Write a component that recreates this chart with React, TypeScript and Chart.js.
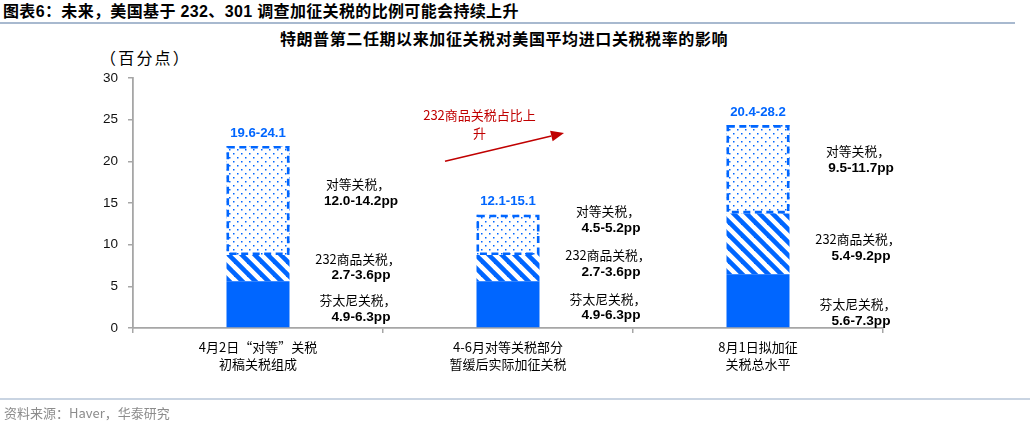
import React, { useEffect, useRef } from "react";
import { Chart, registerables } from "chart.js";

Chart.register(...registerables);

// ---------- data ----------
const categories: string[][] = [
  ["4月2日“对等”关税", "初稿关税组成"],
  ["4-6月对等关税部分", "暂缓后实际加征关税"],
  ["8月1日拟加征", "关税总水平"],
];
const fentanylValues = [5.6, 5.6, 6.45];
const section232Values = [3.15, 3.15, 7.3];
const reciprocalValues = [13.1, 4.85, 10.6];

const totalRangeLabels = ["19.6-24.1", "12.1-15.1", "20.4-28.2"];
const reciprocalRangeLabels = ["12.0-14.2pp", "4.5-5.2pp", "9.5-11.7pp"];
const section232RangeLabels = ["2.7-3.6pp", "2.7-3.6pp", "5.4-9.2pp"];
const fentanylRangeLabels = ["4.9-6.3pp", "4.9-6.3pp", "5.6-7.3pp"];

const reciprocalName = "对等关税，";
const section232Name = "232商品关税，";
const fentanylName = "芬太尼关税，";

// annotation anchors (value units on the y axis)
const reciprocalNoteY = [16.2, 13.0, 20.2];
const section232NoteY = [7.3, 7.7, 9.6];
const fentanylNoteY = [2.3, 2.5, 1.8];

const arrowText = ["232商品关税占比上", "升"];

const Y_MIN = 0;
const Y_MAX = 30;
const Y_STEP = 5;

const BLUE = "#0066FF";
const RED = "#C00000";
const AXIS = "#A6A6A6";
const LATIN = '"Liberation Sans", "Noto Sans CJK SC", sans-serif';
const CJK = '"Noto Sans CJK SC", "Liberation Sans", sans-serif';

function makeHatch(): CanvasPattern | string {
  const s = 13;
  const c = document.createElement("canvas");
  c.width = s;
  c.height = s;
  const g = c.getContext("2d");
  if (!g) return BLUE;
  g.fillStyle = "#ffffff";
  g.fillRect(0, 0, s, s);
  g.strokeStyle = BLUE;
  g.lineWidth = 4.6;
  for (const x0 of [-s, 0, s]) {
    g.beginPath();
    g.moveTo(x0 - 2, -2);
    g.lineTo(x0 + s + 2, s + 2);
    g.stroke();
  }
  return g.createPattern(c, "repeat") || BLUE;
}

function makeDots(): CanvasPattern | string {
  const s = 8;
  const c = document.createElement("canvas");
  c.width = s;
  c.height = s;
  const g = c.getContext("2d");
  if (!g) return "#fff";
  g.fillStyle = "#ffffff";
  g.fillRect(0, 0, s, s);
  g.fillStyle = BLUE;
  g.fillRect(1, 1, 1.5, 1.5);
  g.fillRect(5, 5, 1.5, 1.5);
  return g.createPattern(c, "repeat") || "#fff";
}

const annotationPlugin = {
  id: "annotations",
  afterDatasetsDraw(chart: any) {
    const ctx: CanvasRenderingContext2D = chart.ctx;
    const meta = chart.getDatasetMeta(2);
    ctx.save();
    ctx.strokeStyle = BLUE;
    ctx.lineWidth = 2.6;
    ctx.setLineDash([7, 4.5]);
    meta.data.forEach((el: any) => {
      const w = el.width;
      const lw = 1.3;
      ctx.strokeRect(el.x - w / 2 + lw, el.y + lw, w - 2 * lw, el.base - el.y - 2 * lw);
    });
    ctx.restore();
  },
  afterDraw(chart: any) {
    const ctx: CanvasRenderingContext2D = chart.ctx;
    const xs = chart.scales.x;
    const ys = chart.scales.y;
    const top = chart.getDatasetMeta(2);
    ctx.save();
    ctx.textAlign = "center";
    ctx.textBaseline = "middle";

    // total range labels above bars
    ctx.fillStyle = BLUE;
    ctx.font = `bold 13.2px ${LATIN}`;
    top.data.forEach((el: any, i: number) => {
      ctx.fillText(totalRangeLabels[i], el.x, el.y - 13);
    });

    // segment notes to the right of bars
    const catW = xs.getPixelForValue(1) - xs.getPixelForValue(0);
    const drawPair = (name: string, val: string, i: number, yv: number) => {
      const cx = xs.getPixelForValue(i) + catW * 0.4;
      const cy = ys.getPixelForValue(yv);
      ctx.fillStyle = "#000";
      ctx.font = `12.8px ${CJK}`;
      ctx.fillText(name, cx, cy - 8.5);
      ctx.font = `bold 13.6px ${LATIN}`;
      ctx.fillText(val, cx + 3, cy + 8.5);
    };
    categories.forEach((_, i) => {
      drawPair(reciprocalName, reciprocalRangeLabels[i], i, reciprocalNoteY[i]);
      drawPair(section232Name, section232RangeLabels[i], i, section232NoteY[i]);
      drawPair(fentanylName, fentanylRangeLabels[i], i, fentanylNoteY[i]);
    });

    // red arrow
    const x1 = xs.getPixelForValue(0.748);
    const y1 = ys.getPixelForValue(20.0);
    const x2 = xs.getPixelForValue(1.224);
    const y2 = ys.getPixelForValue(23.4);
    const ang = Math.atan2(y2 - y1, x2 - x1);
    const headL = 13;
    const headW = 5.5;
    ctx.strokeStyle = RED;
    ctx.fillStyle = RED;
    ctx.lineWidth = 1.5;
    ctx.beginPath();
    ctx.moveTo(x1, y1);
    ctx.lineTo(x2 - headL * Math.cos(ang), y2 - headL * Math.sin(ang));
    ctx.stroke();
    ctx.beginPath();
    ctx.moveTo(x2, y2);
    ctx.lineTo(
      x2 - headL * Math.cos(ang) + headW * Math.sin(ang),
      y2 - headL * Math.sin(ang) - headW * Math.cos(ang)
    );
    ctx.lineTo(
      x2 - headL * Math.cos(ang) - headW * Math.sin(ang),
      y2 - headL * Math.sin(ang) + headW * Math.cos(ang)
    );
    ctx.closePath();
    ctx.fill();

    ctx.font = `13px ${CJK}`;
    const tx = xs.getPixelForValue(0.886);
    ctx.fillText(arrowText[0], tx, ys.getPixelForValue(25.6));
    ctx.fillText(arrowText[1], tx, ys.getPixelForValue(23.4));
    ctx.restore();
  },
};

export default function App() {
  const ref = useRef<HTMLCanvasElement | null>(null);

  useEffect(() => {
    if (!ref.current) return;
    const chart = new Chart(ref.current, {
      type: "bar",
      data: {
        labels: categories,
        datasets: [
          {
            label: "芬太尼关税",
            data: fentanylValues,
            backgroundColor: BLUE,
            borderWidth: 0,
            barPercentage: 0.252,
            categoryPercentage: 1,
          },
          {
            label: "232商品关税",
            data: section232Values,
            backgroundColor: makeHatch() as any,
            borderWidth: 0,
            barPercentage: 0.252,
            categoryPercentage: 1,
          },
          {
            label: "对等关税",
            data: reciprocalValues,
            backgroundColor: makeDots() as any,
            borderWidth: 0,
            barPercentage: 0.252,
            categoryPercentage: 1,
          },
        ],
      },
      options: {
        animation: false,
        responsive: false,
        maintainAspectRatio: false,
        layout: { padding: { left: 0, right: 147, top: 78, bottom: 0 } },
        plugins: {
          legend: { display: false },
          tooltip: { enabled: false },
          title: { display: false },
        },
        scales: {
          x: {
            stacked: true,
            afterFit: (s: any) => {
              s.height = 95;
            },
            grid: {
              display: true,
              offset: true,
              drawOnChartArea: false,
              drawTicks: true,
              tickLength: 5,
              color: AXIS,
              lineWidth: 1.5,
            },
            border: { display: true, color: AXIS, width: 1.8 },
            ticks: {
              color: "#000",
              padding: 5,
              font: { family: CJK, size: 13, lineHeight: 1.32 },
              maxRotation: 0,
              autoSkip: false,
            },
          },
          y: {
            stacked: true,
            min: Y_MIN,
            max: Y_MAX,
            afterFit: (s: any) => {
              s.width = 133;
            },
            grid: {
              display: true,
              drawOnChartArea: false,
              drawTicks: true,
              tickLength: 5,
              color: AXIS,
              lineWidth: 1.5,
            },
            border: { display: true, color: AXIS, width: 1.8 },
            ticks: {
              stepSize: Y_STEP,
              color: "#111",
              padding: 10,
              font: { family: LATIN, size: 13.5 },
            },
          },
        },
      },
      plugins: [annotationPlugin],
    });
    return () => chart.destroy();
  }, []);

  return (
    <div
      style={{
        position: "absolute",
        left: 0,
        top: 0,
        width: 1030,
        height: 423,
        background: "#fff",
        overflow: "hidden",
      }}
    >
      <div
        style={{
          position: "absolute",
          left: 3,
          top: 2,
          lineHeight: "20px",
          fontSize: 16,
          fontWeight: "bold",
          fontFamily: LATIN,
          color: "#000",
          letterSpacing: 0.35,
          whiteSpace: "nowrap",
        }}
      >
        图表6：未来，美国基于 232、301 调查加征关税的比例可能会持续上升
      </div>
      <div
        style={{
          position: "absolute",
          left: 0,
          top: 22,
          width: 1015,
          height: 2,
          background: "#A8B9CF",
        }}
      />
      <div
        style={{
          position: "absolute",
          left: 0,
          top: 28,
          width: 1008,
          textAlign: "center",
          lineHeight: "20px",
          fontSize: 16,
          fontWeight: "bold",
          fontFamily: CJK,
          color: "#000",
          letterSpacing: 0.6,
          whiteSpace: "nowrap",
        }}
      >
        特朗普第二任期以来加征关税对美国平均进口关税税率的影响
      </div>
      <div
        style={{
          position: "absolute",
          left: 100,
          top: 47,
          lineHeight: "20px",
          fontSize: 16,
          fontFamily: CJK,
          color: "#000",
          letterSpacing: 2.2,
          whiteSpace: "nowrap",
        }}
      >
        （百分点）
      </div>
      <canvas
        ref={ref}
        width={1030}
        height={423}
        style={{ position: "absolute", left: 0, top: 0, width: 1030, height: 423 }}
      />
      <div
        style={{
          position: "absolute",
          left: 0,
          top: 398,
          width: 1030,
          height: 2,
          background: "#C9D4E2",
        }}
      />
      <div
        style={{
          position: "absolute",
          left: 4,
          top: 403,
          lineHeight: "20px",
          fontSize: 13,
          fontFamily: CJK,
          color: "#8C8C8C",
          whiteSpace: "nowrap",
        }}
      >
        资料来源：Haver，华泰研究
      </div>
    </div>
  );
}
